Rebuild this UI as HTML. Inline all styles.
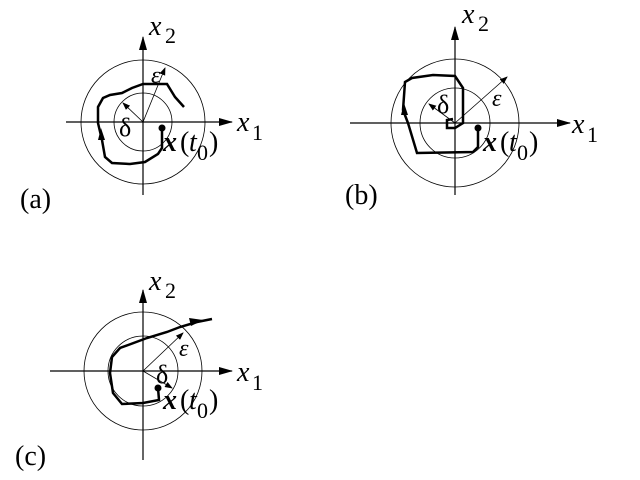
<!DOCTYPE html>
<html><head><meta charset="utf-8"><style>body{margin:0;background:#fff}svg{display:block}text{font-family:"Liberation Serif",serif}</style></head><body>
<svg width="640" height="480" viewBox="0 0 640 480" xmlns="http://www.w3.org/2000/svg">
<defs>
<marker id="ah" markerWidth="14" markerHeight="8" refX="13" refY="4" orient="auto" markerUnits="userSpaceOnUse"><path d="M0,0L14,4L0,8Z" fill="#000"/></marker>
<marker id="sa" markerWidth="8" markerHeight="6" refX="7" refY="3" orient="auto" markerUnits="userSpaceOnUse"><path d="M0,0L8,3L0,6Z" fill="#000"/></marker>
</defs>
<g stroke="#000" fill="none">
<!-- (a) -->
<line x1="66" y1="122" x2="232" y2="122" stroke-width="1.2" marker-end="url(#ah)"/>
<line x1="143" y1="195" x2="143" y2="37" stroke-width="1.2" marker-end="url(#ah)"/>
<circle cx="143" cy="122" r="62" stroke-width="0.8"/>
<circle cx="143" cy="122" r="29" stroke-width="0.8"/>
<line x1="143" y1="122" x2="165" y2="68" stroke-width="0.8" marker-end="url(#sa)"/>
<line x1="143" y1="122" x2="123" y2="103" stroke-width="0.8" marker-end="url(#sa)"/>
<polyline points="162,128 162,148 158,154 145,162 130,164 112,163 105,157 102,140 98,123 98,107 103,98 110,95 122,93 132,88 143,84 167,84 175,97 184,107" stroke-width="2.5"/>
<path d="M101,128 L98,140 L105,140Z" fill="#000" stroke="none"/>
<!-- (b) -->
<line x1="350" y1="123" x2="570" y2="123" stroke-width="1.2" marker-end="url(#ah)"/>
<line x1="455" y1="195" x2="455" y2="27" stroke-width="1.2" marker-end="url(#ah)"/>
<circle cx="455" cy="123" r="64" stroke-width="0.8"/>
<circle cx="455" cy="123" r="35" stroke-width="0.8"/>
<line x1="455" y1="123" x2="507" y2="77" stroke-width="0.8" marker-end="url(#sa)"/>
<line x1="455" y1="123" x2="429" y2="104" stroke-width="0.8" marker-end="url(#sa)"/>
<polyline points="478,128 478,147 473,152 417,153 408,123 403,110 405,82 412,78 433,75 455,76 463,88 463,123 455,128 447,128 447,120 453,119" stroke-width="2.5"/>
<path d="M404,103 L401,115 L408,115Z" fill="#000" stroke="none"/>
<!-- (c) -->
<line x1="50" y1="371" x2="232" y2="371" stroke-width="1.2" marker-end="url(#ah)"/>
<line x1="143" y1="460" x2="143" y2="290" stroke-width="1.2" marker-end="url(#ah)"/>
<circle cx="143" cy="371" r="59" stroke-width="0.8"/>
<circle cx="143" cy="371" r="35" stroke-width="0.8"/>
<line x1="143" y1="371" x2="183" y2="333" stroke-width="0.8" marker-end="url(#sa)"/>
<line x1="143" y1="371" x2="172" y2="388" stroke-width="0.8" marker-end="url(#sa)"/>
<polyline points="158,388 159,400 143,403 122,404 113,393 110,373 112,357 120,348 147,338 167,332 180,327 197,322 212,319" stroke-width="2.5"/>
<path d="M203,320 L189,318 L191,326Z" fill="#000" stroke="none"/>
</g>
<g fill="#000">
<circle cx="162" cy="128" r="3.5"/><circle cx="478" cy="128" r="3.5"/><circle cx="158" cy="388" r="3.5"/>
</g>
<g font-size="28">
<text x="149" y="35" font-style="italic">x</text><text x="165" y="43" font-size="22">2</text>
<text x="237" y="131" font-style="italic">x</text><text x="252" y="140" font-size="22">1</text>
<text x="151" y="83" font-style="italic" font-size="24">ε</text>
<text x="119" y="136" font-size="26">δ</text>
<text x="163" y="151" font-style="italic" font-weight="bold">x</text><text x="180" y="151">(</text><text x="189" y="151" font-style="italic">t</text><text x="197" y="160" font-size="22">0</text><text x="209" y="151">)</text>
<text x="20" y="208">(a)</text>

<text x="462" y="23" font-style="italic">x</text><text x="478" y="31" font-size="22">2</text>
<text x="572" y="133" font-style="italic">x</text><text x="587" y="142" font-size="22">1</text>
<text x="492" y="106" font-style="italic" font-size="24">ε</text>
<text x="437" y="113" font-size="26">δ</text>
<text x="483" y="151" font-style="italic" font-weight="bold">x</text><text x="500" y="151">(</text><text x="509" y="151" font-style="italic">t</text><text x="517" y="160" font-size="22">0</text><text x="529" y="151">)</text>
<text x="345" y="204">(b)</text>

<text x="149" y="290" font-style="italic">x</text><text x="165" y="298" font-size="22">2</text>
<text x="237" y="381" font-style="italic">x</text><text x="252" y="390" font-size="22">1</text>
<text x="179" y="356" font-style="italic" font-size="24">ε</text>
<text x="156" y="383" font-size="26">δ</text>
<text x="163" y="409" font-style="italic" font-weight="bold">x</text><text x="180" y="409">(</text><text x="189" y="409" font-style="italic">t</text><text x="197" y="418" font-size="22">0</text><text x="209" y="409">)</text>
<text x="15" y="465">(c)</text>
</g>
</svg>
</body></html>
